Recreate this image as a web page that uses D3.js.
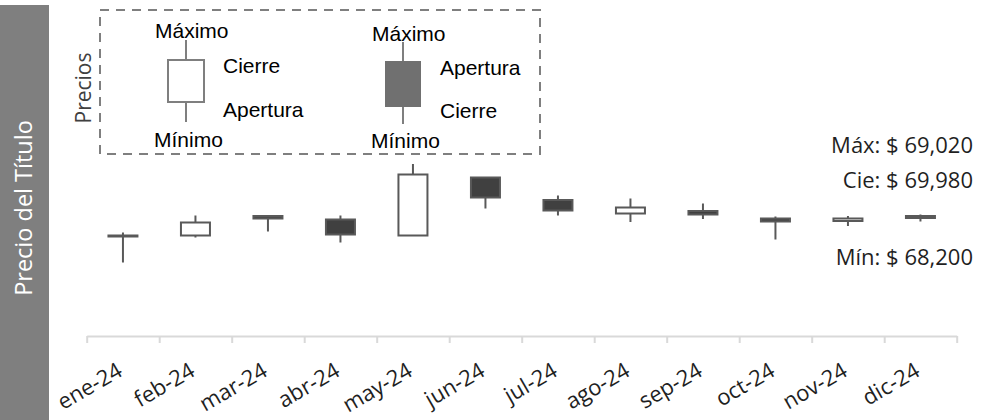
<!DOCTYPE html>
<html>
<head>
<meta charset="utf-8">
<script src="https://cdn.jsdelivr.net/npm/d3@7"></script>
<style>
  body { margin: 0; background: #fff; }
  svg { display: block; }
  .calib { font-family: 'Open Sans', sans-serif; }
  .leg { font-family: 'Liberation Sans', Arial, sans-serif; font-size: 21px; fill: #000; }
</style>
</head>
<body>
<svg id="svg_candles" width="981" height="420"></svg>
<script>
const months = ['ene-24', 'feb-24', 'mar-24', 'abr-24', 'may-24', 'jun-24',
  'jul-24', 'ago-24', 'sep-24', 'oct-24', 'nov-24', 'dic-24']
const opens  = [68010, 68010, 68400, 68330, 68010, 69170, 68720, 68450, 68500, 68350, 68300, 68360]
const highs  = [68070, 68410, 68420, 68410, 69440, 69180, 68810, 68750, 68650, 68390, 68400, 68430]
const lows   = [67470, 67970, 68090, 67870, 68010, 68550, 68410, 68280, 68340, 67930, 68200, 68290]
const closes = [68000, 68270, 68350, 68030, 69230, 68770, 68510, 68570, 68430, 68290, 68350, 68400]

const summaryLabels = ['Máx: $ 69,020', 'Cie: $ 69,980', 'Mín: $ 68,200']
const yTitle = 'Precio del Título'
const legendTitle = 'Precios'

const svg = d3.select('#svg_candles')

const margin = { left: 86.7, right: 24.3, axisY: 336 }

// band per month, edges give the tick marks
const x = d3.scaleBand()
  .domain(months)
  .range([margin.left, 981 - margin.right])
  .paddingInner(0)
const xEdge = d3.scaleLinear()
  .domain([0, months.length])
  .range([margin.left, 981 - margin.right])

const y = d3.scaleLinear()
  .domain([66000, 70000])
  .range([margin.axisY, margin.axisY - 200])

const candles = months.map((m, i) => ({
  month: m, open: opens[i], high: highs[i], low: lows[i], close: closes[i]
}))

// y title block
svg.append('rect')
  .attr('x', 0).attr('y', 5)
  .attr('width', 49).attr('height', 415)
  .attr('fill', '#7f7f7f')

svg.append('text')
  .attr('class', 'calib')
  .attr('transform', 'translate(32, 208) rotate(-90)')
  .attr('text-anchor', 'middle')
  .attr('font-size', 23.5)
  .attr('fill', '#fff')
  .text(yTitle)

// axis
const axis = svg.append('g')
  .attr('transform', `translate(0, ${margin.axisY})`)
  .call(d3.axisBottom(xEdge)
    .tickValues(d3.range(months.length + 1))
    .tickFormat('')
    .tickSize(7)
    .tickSizeOuter(0))
axis.select('.domain').attr('stroke', '#d9d9d9').attr('stroke-width', 2)
axis.selectAll('.tick line').attr('stroke', '#d9d9d9').attr('stroke-width', 2)

svg.append('g')
  .selectAll('text')
  .data(months)
  .enter()
  .append('text')
  .attr('class', 'calib')
  .attr('font-size', 22)
  .attr('fill', '#1f1f1f')
  .attr('text-anchor', 'end')
  .attr('transform', d => `translate(${x(d) + x.bandwidth() / 2 + 1}, 375) rotate(-30)`)
  .text(d => d)

// candles
const bodyW = x.bandwidth() * 0.4
const cg = svg.append('g')

cg.selectAll('line')
  .data(candles)
  .enter()
  .append('line')
  .attr('x1', d => x(d.month) + x.bandwidth() / 2)
  .attr('x2', d => x(d.month) + x.bandwidth() / 2)
  .attr('y1', d => y(d.high))
  .attr('y2', d => y(d.low))
  .attr('stroke', '#595959')
  .attr('stroke-width', 2)

cg.selectAll('rect')
  .data(candles)
  .enter()
  .append('rect')
  .attr('x', d => x(d.month) + (x.bandwidth() - bodyW) / 2)
  .attr('y', d => y(Math.max(d.open, d.close)))
  .attr('width', bodyW)
  .attr('height', d => Math.max(1, Math.abs(y(d.open) - y(d.close))))
  .attr('fill', d => d.close >= d.open ? '#fff' : '#404040')
  .attr('stroke', '#595959')
  .attr('stroke-width', 2)

// summary text on the right
const summaryY = [153, 188, 265]
svg.append('g')
  .selectAll('text')
  .data(summaryLabels)
  .enter()
  .append('text')
  .attr('class', 'calib')
  .attr('font-size', 22)
  .attr('fill', '#1f1f1f')
  .attr('text-anchor', 'end')
  .attr('x', 973)
  .attr('y', (d, i) => summaryY[i])
  .text(d => d)

// legend
const legend = svg.append('g')

legend.append('rect')
  .attr('x', 100).attr('y', 10)
  .attr('width', 440).attr('height', 144)
  .attr('fill', 'none')
  .attr('stroke', '#7f7f7f')
  .attr('stroke-width', 2)
  .attr('stroke-dasharray', '9,7')

legend.append('text')
  .attr('class', 'calib')
  .attr('transform', 'translate(91, 88) rotate(-90)')
  .attr('text-anchor', 'middle')
  .attr('font-size', 21)
  .attr('fill', '#404040')
  .text(legendTitle)

const legendCandles = [
  { cx: 186, top: 40, bottom: 122, y0: 60, y1: 102, fill: '#fff',
    labels: [['Máximo', 155, 38], ['Cierre', 223, 73], ['Apertura', 223, 117], ['Mínimo', 154, 147]] },
  { cx: 403, top: 42, bottom: 124, y0: 61, y1: 107, fill: '#707070',
    labels: [['Máximo', 372, 41], ['Apertura', 440, 75], ['Cierre', 440, 118], ['Mínimo', 371, 148]] }
]

legendCandles.forEach(c => {
  legend.append('line')
    .attr('x1', c.cx).attr('x2', c.cx)
    .attr('y1', c.top).attr('y2', c.bottom)
    .attr('stroke', '#7f7f7f')
    .attr('stroke-width', 2)
  legend.append('rect')
    .attr('x', c.cx - 18).attr('y', c.y0)
    .attr('width', 36).attr('height', c.y1 - c.y0)
    .attr('fill', c.fill)
    .attr('stroke', c.fill === '#fff' ? '#7f7f7f' : 'none')
    .attr('stroke-width', 2)
  legend.selectAll(null)
    .data(c.labels)
    .enter()
    .append('text')
    .attr('class', 'leg')
    .attr('x', d => d[1])
    .attr('y', d => d[2])
    .text(d => d[0])
})
</script>
</body>
</html>
